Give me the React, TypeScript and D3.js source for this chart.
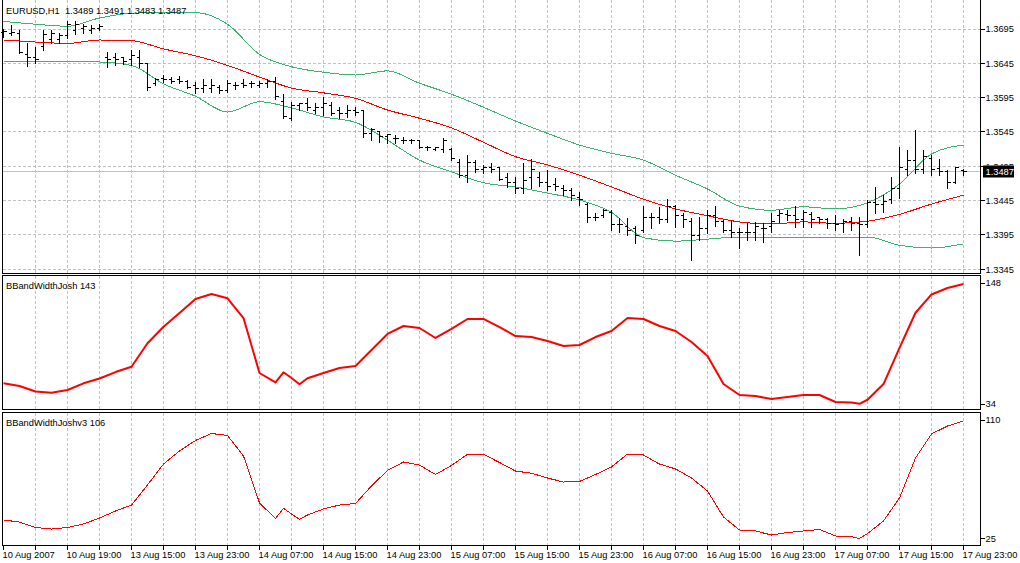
import React from "react";
import * as d3 from "d3";

// ---------- data ----------
const symbolTitle = "EURUSD,H1  1.3489 1.3491 1.3483 1.3487";
const ind1Name = "BBandWidthJosh 143";
const ind2Name = "BBandWidthJoshv3 106";

const timeLabels = [
  "10 Aug 2007", "10 Aug 19:00", "13 Aug 15:00", "13 Aug 23:00", "14 Aug 07:00",
  "14 Aug 15:00", "14 Aug 23:00", "15 Aug 07:00", "15 Aug 15:00", "15 Aug 23:00",
  "16 Aug 07:00", "16 Aug 15:00", "16 Aug 23:00", "17 Aug 07:00", "17 Aug 15:00",
  "17 Aug 23:00",
];
const barsPerLabel = 8;
const barsPerGrid = 4;

const priceTicks = [1.3345, 1.3395, 1.3445, 1.3495, 1.3545, 1.3595, 1.3645, 1.3695];
const ind1Ticks = [34, 148];
const ind2Ticks = [25, 110];

const open = [
  1.3690, 1.3689, 1.3689, 1.3658, 1.3653, 1.3670, 1.3679, 1.3679, 1.3686, 1.3693,
  1.3696, 1.3693, 1.3696, 1.3653, 1.3653, 1.3653, 1.3650, 1.3654, 1.3645, 1.3616,
  1.3623, 1.3621, 1.3621, 1.3618, 1.3613, 1.3609, 1.3609, 1.3610, 1.3606, 1.3612,
  1.3615, 1.3615, 1.3613, 1.3615, 1.3619, 1.3590, 1.3565, 1.3583, 1.3586, 1.3577,
  1.3580, 1.3584, 1.3577, 1.3572, 1.3577, 1.3577, 1.3543, 1.3545, 1.3538, 1.3535,
  1.3533, 1.3532, 1.3532, 1.3523, 1.3520, 1.3519, 1.3519, 1.3501, 1.3482, 1.3500,
  1.3490, 1.3494, 1.3493, 1.3478, 1.3472, 1.3463, 1.3478, 1.3479, 1.3472, 1.3468,
  1.3463, 1.3460, 1.3450, 1.3439, 1.3421, 1.3424, 1.3428, 1.3410, 1.3407, 1.3404,
  1.3401, 1.3420, 1.3420, 1.3417, 1.3436, 1.3424, 1.3414, 1.3394, 1.3405, 1.3423,
  1.3414, 1.3401, 1.3399, 1.3398, 1.3398, 1.3405, 1.3407, 1.3423, 1.3425, 1.3424,
  1.3417, 1.3425, 1.3420, 1.3417, 1.3411, 1.3411, 1.3415, 1.3412, 1.3410, 1.3443,
  1.3440, 1.3446, 1.3463, 1.3490, 1.3504, 1.3490, 1.3507, 1.3492, 1.3487, 1.3472,
  1.3489,
];
const high = [
  1.3695, 1.3701, 1.3693, 1.3674, 1.3669, 1.3693, 1.3693, 1.3689, 1.3706, 1.3706,
  1.3703, 1.3701, 1.3703, 1.3661, 1.3660, 1.3654, 1.3664, 1.3664, 1.3645, 1.3623,
  1.3628, 1.3625, 1.3626, 1.3621, 1.3618, 1.3622, 1.3622, 1.3613, 1.3621, 1.3618,
  1.3622, 1.3619, 1.3619, 1.3622, 1.3625, 1.3600, 1.3589, 1.3587, 1.3594, 1.3587,
  1.3596, 1.3589, 1.3581, 1.3584, 1.3581, 1.3577, 1.3551, 1.3545, 1.3542, 1.3541,
  1.3538, 1.3535, 1.3533, 1.3525, 1.3523, 1.3536, 1.3522, 1.3506, 1.3511, 1.3504,
  1.3497, 1.3500, 1.3493, 1.3485, 1.3479, 1.3500, 1.3506, 1.3487, 1.3490, 1.3478,
  1.3468, 1.3463, 1.3458, 1.3442, 1.3427, 1.3433, 1.3431, 1.3420, 1.3420, 1.3408,
  1.3437, 1.3427, 1.3436, 1.3447, 1.3439, 1.3427, 1.3420, 1.3421, 1.3431, 1.3437,
  1.3417, 1.3417, 1.3405, 1.3412, 1.3414, 1.3412, 1.3427, 1.3431, 1.3431, 1.3437,
  1.3431, 1.3428, 1.3421, 1.3420, 1.3424, 1.3418, 1.3421, 1.3421, 1.3446, 1.3465,
  1.3453, 1.3479, 1.3523, 1.3519, 1.3548, 1.3519, 1.3511, 1.3506, 1.3490, 1.3494,
  1.3491,
];
const low = [
  1.3683, 1.3686, 1.3660, 1.3641, 1.3645, 1.3664, 1.3674, 1.3674, 1.3682, 1.3687,
  1.3689, 1.3689, 1.3693, 1.3640, 1.3642, 1.3644, 1.3642, 1.3640, 1.3606, 1.3613,
  1.3618, 1.3616, 1.3616, 1.3609, 1.3602, 1.3603, 1.3603, 1.3602, 1.3603, 1.3607,
  1.3610, 1.3610, 1.3610, 1.3610, 1.3593, 1.3565, 1.3562, 1.3577, 1.3577, 1.3572,
  1.3570, 1.3570, 1.3565, 1.3567, 1.3570, 1.3538, 1.3533, 1.3530, 1.3529, 1.3529,
  1.3529, 1.3529, 1.3522, 1.3519, 1.3519, 1.3516, 1.3504, 1.3479, 1.3472, 1.3487,
  1.3485, 1.3487, 1.3475, 1.3465, 1.3456, 1.3456, 1.3463, 1.3466, 1.3460, 1.3460,
  1.3453, 1.3446, 1.3439, 1.3414, 1.3417, 1.3421, 1.3402, 1.3399, 1.3395, 1.3383,
  1.3399, 1.3405, 1.3412, 1.3414, 1.3407, 1.3407, 1.3359, 1.3388, 1.3398, 1.3408,
  1.3399, 1.3392, 1.3376, 1.3388, 1.3388, 1.3385, 1.3399, 1.3414, 1.3417, 1.3407,
  1.3407, 1.3407, 1.3412, 1.3405, 1.3402, 1.3399, 1.3402, 1.3366, 1.3407, 1.3427,
  1.3428, 1.3442, 1.3449, 1.3482, 1.3485, 1.3485, 1.3482, 1.3482, 1.3463, 1.3471,
  1.3483,
];
const close = [
  1.3692, 1.3690, 1.3661, 1.3654, 1.3650, 1.3687, 1.3689, 1.3686, 1.3701, 1.3701,
  1.3698, 1.3696, 1.3699, 1.3651, 1.3650, 1.3648, 1.3656, 1.3645, 1.3610, 1.3621,
  1.3622, 1.3619, 1.3618, 1.3610, 1.3609, 1.3613, 1.3612, 1.3605, 1.3615, 1.3613,
  1.3613, 1.3615, 1.3615, 1.3618, 1.3596, 1.3568, 1.3584, 1.3586, 1.3580, 1.3581,
  1.3586, 1.3572, 1.3572, 1.3577, 1.3574, 1.3543, 1.3548, 1.3538, 1.3541, 1.3536,
  1.3533, 1.3532, 1.3522, 1.3522, 1.3522, 1.3533, 1.3506, 1.3482, 1.3500, 1.3490,
  1.3494, 1.3490, 1.3476, 1.3471, 1.3463, 1.3475, 1.3490, 1.3471, 1.3465, 1.3466,
  1.3460, 1.3453, 1.3446, 1.3421, 1.3421, 1.3430, 1.3410, 1.3410, 1.3402, 1.3394,
  1.3421, 1.3420, 1.3418, 1.3437, 1.3424, 1.3417, 1.3394, 1.3405, 1.3423, 1.3414,
  1.3401, 1.3399, 1.3398, 1.3398, 1.3407, 1.3405, 1.3414, 1.3427, 1.3423, 1.3418,
  1.3428, 1.3417, 1.3417, 1.3412, 1.3410, 1.3415, 1.3412, 1.3410, 1.3443, 1.3440,
  1.3444, 1.3463, 1.3493, 1.3504, 1.3490, 1.3509, 1.3490, 1.3487, 1.3472, 1.3493,
  1.3487,
];

// Bollinger bands, read every 4 bars
const bandBars = [0, 4, 8, 12, 16, 20, 24, 28, 32, 36, 40, 44, 48, 52, 56, 60, 64, 68, 72, 76, 80, 84, 88, 92, 96, 100, 104, 108, 112, 116, 120];
const bbUpper = [1.3706, 1.3702, 1.3699, 1.3711, 1.3718, 1.3719, 1.3719, 1.3702, 1.3658, 1.3640, 1.3632, 1.3628, 1.3634, 1.3616, 1.3600, 1.3581, 1.3561, 1.3543, 1.3526, 1.3514, 1.3504, 1.3482, 1.3462, 1.3437, 1.3431, 1.3436, 1.3433, 1.3442, 1.3469, 1.3513, 1.3526];
const bbMiddle = [1.3679, 1.3676, 1.3674, 1.3679, 1.3678, 1.3666, 1.3656, 1.3642, 1.3625, 1.3609, 1.3602, 1.3594, 1.3577, 1.3565, 1.3551, 1.3530, 1.3509, 1.3497, 1.3482, 1.3465, 1.3447, 1.3433, 1.3423, 1.3414, 1.3411, 1.3414, 1.3412, 1.3415, 1.3425, 1.3440, 1.3453];
const bbLower = [1.3648, 1.3648, 1.3648, 1.3647, 1.3642, 1.3615, 1.3597, 1.3574, 1.3589, 1.3580, 1.3567, 1.3559, 1.3533, 1.3504, 1.3487, 1.3471, 1.3465, 1.3456, 1.3446, 1.3428, 1.3391, 1.3386, 1.3389, 1.3392, 1.3391, 1.3392, 1.3392, 1.3392, 1.3380, 1.3376, 1.3382];

// indicator samples
const indBars = [
  0, 2, 4, 6, 8, 10, 12, 14, 16, 18, 20, 22, 24, 26, 28, 30, 32, 34, 35, 36, 37,
  38, 40, 42, 44, 46, 48, 50, 52, 54, 56, 58, 60, 62, 64, 66, 68, 70, 72, 74, 76,
  78, 80, 82, 84, 86, 88, 90, 92, 94, 96, 98, 100, 102, 104, 106, 107, 108, 110,
  112, 114, 116, 118, 120,
];
const bbwJosh = [
  53.5, 51.0, 45.8, 44.6, 47.2, 53.5, 58.0, 64.1, 69.1, 91.2, 106.8, 119.7, 132.9,
  137.6, 133.6, 115.0, 63.2, 54.4, 63.9, 58.5, 52.6, 58.2, 63.2, 67.9, 69.8, 84.9,
  100.0, 107.5, 105.6, 96.2, 104.7, 114.1, 114.1, 106.5, 98.0, 97.1, 93.4, 88.6,
  89.6, 97.1, 102.8, 115.0, 114.1, 107.5, 102.8, 92.4, 79.2, 52.8, 42.5, 41.5, 38.7,
  40.6, 42.5, 42.5, 35.9, 35.4, 34.2, 38.0, 52.8, 86.8, 120.0, 137.2, 143.3, 147.1,
];
const bbwJoshV3 = [
  38.3, 36.8, 32.9, 31.8, 32.9, 35.4, 39.7, 44.7, 49.0, 63.4, 78.4, 87.8, 95.3,
  100.3, 98.9, 84.2, 50.5, 39.3, 46.7, 42.6, 38.8, 41.9, 46.2, 49.0, 50.1, 62.7,
  73.8, 79.9, 77.7, 70.9, 77.4, 85.4, 85.4, 79.5, 73.4, 71.8, 68.4, 65.5, 65.9,
  70.9, 76.3, 85.6, 84.9, 78.4, 74.9, 68.4, 59.1, 40.4, 31.1, 30.4, 27.5, 29.3,
  30.4, 31.5, 26.8, 26.3, 25.0, 28.5, 37.6, 54.1, 82.7, 100.0, 105.7, 109.3,
];

// ---------- layout / style ----------
const W = 1020;
const H = 563;
const XL = 2.5;
const XR = 980.5;
const MAIN = { top: 0, bottom: 273.5 };
const P2 = { top: 275.5, bottom: 409.5 };
const P3 = { top: 412.5, bottom: 545.5 };
const FONT = "'Liberation Sans', Arial, sans-serif";
const FS = 9.3;
const GRID = "#c0c0c0";
const GREEN = "#3cb371";
const RED = "#ff0000";

export default function App() {
  const n = close.length;
  const x = d3.scaleLinear().domain([0, n - 1]).range([3.5, 963.5]);
  const yP = d3.scaleLinear().domain([1.3345, 1.3695]).range([269.3, 29.0]);
  const y2 = d3.scaleLinear().domain([34, 148]).range([404, 283]);
  const y3 = d3.scaleLinear().domain([25, 110]).range([538.5, 420]);
  const snap = (v: number) => Math.floor(v) + 0.5;

  const gridBars = d3.range(barsPerGrid, n, barsPerGrid);
  const tickBars = d3.range(0, n, barsPerGrid);

  const bandPath = (vals: number[]) =>
    d3
      .line<number>()
      .x((_, k) => x(bandBars[k]))
      .y((v) => yP(v))
      .curve(d3.curveMonotoneX)(vals) || "";

  const indPath = (vals: number[], ys: d3.ScaleLinear<number, number>) =>
    d3
      .line<number>()
      .x((_, k) => x(indBars[k]))
      .y((v) => ys(v))
      .curve(d3.curveLinear)(vals) || "";

  const lastClose = close[n - 1];
  const yLast = snap(yP(lastClose));
  const boxTop = yLast - 6;
  const boxH = 12;

  const textStyle: React.CSSProperties = { fontFamily: FONT, fontSize: FS, whiteSpace: "pre" };

  // price labels hidden by the current-price box are only partly visible
  const hidden = (p: number) => Math.abs(yP(p) - yLast) < boxH / 2 + 2;

  return (
    <svg
      width={W}
      height={H}
      viewBox={`0 0 ${W} ${H}`}
      style={{ position: "absolute", left: 0, top: 0, background: "#fff", display: "block" }}
    >
      <defs>
        <clipPath id="aboveBox">
          <rect x={980} y={0} width={40} height={boxTop} />
        </clipPath>
      </defs>
      <rect x={0} y={0} width={W} height={H} fill="#fff" />

      {/* vertical grid lines in all panes */}
      <g stroke={GRID} strokeWidth={1} strokeDasharray="3,2" shapeRendering="crispEdges">
        {gridBars.map((b) => (
          <g key={b}>
            <line x1={x(b)} x2={x(b)} y1={MAIN.top} y2={MAIN.bottom} />
            <line x1={x(b)} x2={x(b)} y1={P2.top} y2={P2.bottom} />
            <line x1={x(b)} x2={x(b)} y1={P3.top} y2={P3.bottom} />
          </g>
        ))}
        {priceTicks.map((p) => (
          <line key={p} x1={XL} x2={XR} y1={snap(yP(p))} y2={snap(yP(p))} />
        ))}
      </g>

      {/* current price line */}
      <line x1={XL} x2={XR} y1={yLast} y2={yLast} stroke="#c0c0c0" strokeWidth={1} shapeRendering="crispEdges" />

      {/* Bollinger bands */}
      <g fill="none" strokeWidth={1} shapeRendering="crispEdges">
        <path d={bandPath(bbUpper)} stroke={GREEN} />
        <path d={bandPath(bbLower)} stroke={GREEN} />
        <path d={bandPath(bbMiddle)} stroke={RED} />
      </g>

      {/* OHLC bars */}
      <g stroke="#000" strokeWidth={1} shapeRendering="crispEdges">
        {close.map((c, i) => {
          const cx = x(i);
          const yh = Math.round(yP(high[i]));
          const yl = Math.round(yP(low[i]));
          const yo = snap(yP(open[i]));
          const yc = snap(yP(c));
          return (
            <g key={i}>
              <line x1={cx} x2={cx} y1={yh} y2={yl + 1} />
              <line x1={cx - 3} x2={cx} y1={yo} y2={yo} />
              <line x1={cx} x2={cx + 3.5} y1={yc} y2={yc} />
            </g>
          );
        })}
      </g>

      {/* indicator lines */}
      <path d={indPath(bbwJosh, y2)} fill="none" stroke={RED} strokeWidth={2} strokeLinejoin="round" />
      <path d={indPath(bbwJoshV3, y3)} fill="none" stroke={RED} strokeWidth={1} shapeRendering="crispEdges" />

      {/* pane frames */}
      <g stroke="#000" strokeWidth={1} fill="none" shapeRendering="crispEdges">
        <line x1={XL} x2={XL} y1={0} y2={MAIN.bottom} />
        <line x1={XR} x2={XR} y1={0} y2={MAIN.bottom} />
        <line x1={XL} x2={XR} y1={MAIN.bottom} y2={MAIN.bottom} />
        <rect x={XL} y={P2.top} width={XR - XL} height={P2.bottom - P2.top} />
        <rect x={XL} y={P3.top} width={XR - XL} height={P3.bottom - P3.top} />
      </g>

      {/* time axis */}
      <g stroke="#000" strokeWidth={1} shapeRendering="crispEdges">
        {tickBars.map((b) => (
          <line key={b} x1={x(b)} x2={x(b)} y1={P3.bottom} y2={P3.bottom + 4} />
        ))}
      </g>
      <g style={textStyle} fill="#000">
        {timeLabels.map((t, j) => (
          <text key={t} x={x(j * barsPerLabel) - 1} y={558}>
            {t}
          </text>
        ))}
      </g>

      {/* price axis */}
      <g stroke="#000" strokeWidth={1} shapeRendering="crispEdges">
        {priceTicks.map((p) => (
          <line key={p} x1={XR} x2={XR + 4} y1={snap(yP(p))} y2={snap(yP(p))} />
        ))}
        {ind1Ticks.map((v) => (
          <line key={"a" + v} x1={XR} x2={XR + 4} y1={snap(y2(v))} y2={snap(y2(v))} />
        ))}
        {ind2Ticks.map((v) => (
          <line key={"b" + v} x1={XR} x2={XR + 4} y1={snap(y3(v))} y2={snap(y3(v))} />
        ))}
      </g>
      <g style={textStyle} fill="#000">
        {priceTicks.map((p) => (
          <text
            key={p}
            x={985.5}
            y={yP(p) + 3.2}
            clipPath={hidden(p) ? "url(#aboveBox)" : undefined}
          >
            {d3.format(".4f")(p)}
          </text>
        ))}
        {ind1Ticks.map((v) => (
          <text key={"a" + v} x={985.5} y={y2(v) + 3.2}>
            {v}
          </text>
        ))}
        {ind2Ticks.map((v) => (
          <text key={"b" + v} x={985.5} y={y3(v) + 3.2}>
            {v}
          </text>
        ))}
      </g>

      {/* current price box */}
      <rect x={983} y={boxTop} width={31} height={boxH} fill="#000" />
      <text x={985.5} y={yLast + 3.2} style={textStyle} fill="#fff">
        {d3.format(".4f")(lastClose)}
      </text>

      {/* titles */}
      <text x={6} y={14} style={textStyle} fill="#000">
        {symbolTitle}
      </text>
      <text x={6} y={289} style={textStyle} fill="#000">
        {ind1Name}
      </text>
      <text x={6} y={426} style={textStyle} fill="#000">
        {ind2Name}
      </text>
    </svg>
  );
}
